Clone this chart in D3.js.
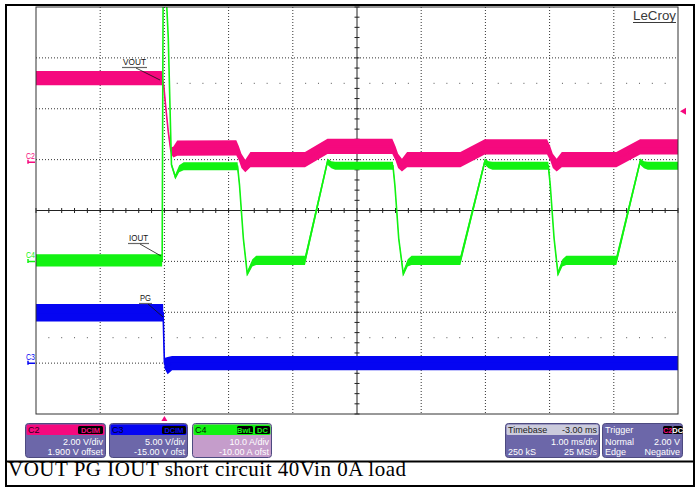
<!DOCTYPE html>
<html>
<head>
<meta charset="utf-8">
<script src="https://cdn.jsdelivr.net/npm/d3@7"></script>
<style>
  body { margin: 0; background: #fff; }
  svg { display: block; }
  text { font-family: "Liberation Sans", Arial, sans-serif; }
</style>
</head>
<body>
<svg id="scope" width="696" height="488"></svg>
<script>
// ---- Acquisition settings ----
const timeDomain = [-2, 8];          // ms across the 10 horizontal divisions
const divDomain = [-4, 4];           // vertical divisions
const triggerTime = 0;               // ms
const triggerLevel = 2.0;            // V on C2

// Channel setup: volts (or amps) per division and offset
const c2Scale = 2.0,  c2Offset = 1.9;     // VOUT
const c3Scale = 5.0,  c3Offset = -15.0;   // PG
const c4Scale = 10.0, c4Offset = -10.0;   // IOUT

// ---- C2: VOUT (V) — time, level, noise half-band ----
const voutT = [-2.0, -0.04, -0.01, 0.02, 0.06, 0.10, 0.14, 0.20,
               1.12, 1.16, 1.20, 1.26, 1.34,
               2.19, 2.54, 3.55, 3.60, 3.64, 3.70, 3.78,
               4.61, 4.99, 5.96, 6.01, 6.05, 6.11, 6.19,
               7.04, 7.41, 8.0];
const voutV = [3.30, 3.30, 3.00, 2.20, 1.20, 0.45, 0.40, 0.55,
               0.56, 0.35, 0.05, -0.15, 0.10,
               0.10, 0.62, 0.62, 0.35, 0.05, -0.12, 0.10,
               0.10, 0.60, 0.60, 0.35, 0.05, -0.12, 0.10,
               0.10, 0.60, 0.60];
const voutN = [0.28, 0.28, 0.15, 0.08, 0.08, 0.12, 0.22, 0.30,
               0.30, 0.28, 0.28, 0.25, 0.30,
               0.30, 0.30, 0.30, 0.28, 0.28, 0.25, 0.30,
               0.30, 0.30, 0.30, 0.28, 0.28, 0.25, 0.30,
               0.30, 0.30, 0.30];

// ---- C4: IOUT (A) ----
const ioutT = [-2.0, -0.035, -0.02, 0.03, 0.06, 0.11, 0.17, 0.23, 0.30,
               1.14, 1.17, 1.23, 1.29, 1.37, 1.43,
               2.19, 2.54, 2.60, 2.66,
               3.56, 3.59, 3.65, 3.72, 3.79, 3.85,
               4.61, 4.99, 5.05, 5.11,
               5.98, 6.01, 6.07, 6.13, 6.20, 6.26,
               7.04, 7.41, 7.47, 7.53, 8.0];
const ioutV = [0.2, 0.2, 52, 52, 44, 19, 16.6, 18.2, 18.7,
               18.7, 15.0, 4.5, -2.4, -0.3, 0.2,
               0.2, 19.6, 19.0, 18.8,
               18.8, 15.0, 4.5, -2.4, -0.3, 0.2,
               0.2, 19.6, 19.0, 18.8,
               18.8, 15.0, 4.5, -2.4, -0.3, 0.2,
               0.2, 19.6, 19.0, 18.8, 18.8];
const ioutN = [1.2, 1.2, 0.3, 0.3, 0.3, 0.4, 0.5, 0.7, 0.8,
               0.8, 0.4, 0.4, 0.5, 0.7, 0.9,
               0.9, 0.6, 0.7, 0.8,
               0.8, 0.4, 0.4, 0.5, 0.7, 0.9,
               0.9, 0.6, 0.7, 0.8,
               0.8, 0.4, 0.4, 0.5, 0.7, 0.9,
               0.9, 0.6, 0.7, 0.8, 0.8];

// ---- C3: PG (V) ----
const pgT = [-2.0, -0.02, 0.0, 0.05, 0.12, 8.0];
const pgV = [4.95, 4.95, 0.0, -0.25, 0.0, 0.0];
const pgN = [0.85, 0.85, 0.5, 0.85, 0.7, 0.7];

// ---- Readout boxes ----
const chanBoxes = [
  { name: "C2", badges: ["DCIM"], rows: [["", "2.00 V/div"], ["", "1.900 V offset"]] },
  { name: "C3", badges: ["DCIM"], rows: [["", "5.00 V/div"], ["", "-15.00 V ofst"]] },
  { name: "C4", badges: ["BwL", "DC"], rows: [["", "10.0 A/div"], ["", "-10.00 A ofst"]] }
];
const timebaseRows = [["Timebase", "-3.00 ms"], ["", "1.00 ms/div"], ["250 kS", "25 MS/s"]];
const triggerRows = [["Trigger", ""], ["Normal", "2.00 V"], ["Edge", "Negative"]];
const captionText = "VOUT PG IOUT short circuit 40Vin 0A load";

// ---- Colours ----
const pink = "#f5097e", blue = "#0505f2", green = "#12f212";
const bodyPurple = "#6c67a9", lightMauve = "#c59dcb";

// ---- Layout ----
const svg = d3.select("#scope");
const plot = { left: 36, right: 678, top: 7, bottom: 414 };

const x = d3.scaleLinear().domain(timeDomain).range([plot.left, plot.right]);
const yDiv = d3.scaleLinear().domain(divDomain).range([plot.bottom, plot.top]);
const chanY = (scale, offset) => v => yDiv((v + offset) / scale);
const y2 = chanY(c2Scale, c2Offset), y3 = chanY(c3Scale, c3Offset), y4 = chanY(c4Scale, c4Offset);

// Outer page frame and caption divider
svg.append("rect").attr("x", 6).attr("y", 5).attr("width", 688).attr("height", 481)
  .attr("fill", "none").attr("stroke", "#000").attr("stroke-width", 2);
svg.append("line").attr("x1", 6).attr("x2", 694).attr("y1", 461.5).attr("y2", 461.5)
  .attr("stroke", "#000").attr("stroke-width", 2);

// ---- Graticule ----
const grid = svg.append("g");
const majorT = d3.range(timeDomain[0], timeDomain[1] + 0.001, 1);
const majorD = d3.range(divDomain[0], divDomain[1] + 0.001, 1);
const minorT = d3.range(timeDomain[0], timeDomain[1] + 0.001, 0.2);
const minorD = d3.range(divDomain[0], divDomain[1] + 0.001, 0.2);

grid.selectAll(".vg").data(majorT.slice(1, -1).filter(t => t !== 3)).join("line")
  .attr("x1", d => x(d)).attr("x2", d => x(d)).attr("y1", plot.top).attr("y2", plot.bottom)
  .attr("stroke", "#333").attr("stroke-dasharray", "1,2");
grid.selectAll(".hg").data(majorD.slice(1, -1).filter(d => d !== 0)).join("line")
  .attr("y1", d => yDiv(d)).attr("y2", d => yDiv(d)).attr("x1", plot.left).attr("x2", plot.right)
  .attr("stroke", "#333").attr("stroke-dasharray", "1,2");

// sparse dot rows at ±2.5 divisions
[2.5, -2.5].forEach(dv => {
  grid.selectAll(null).data(minorT.filter(t => Math.abs(t - Math.round(t)) > 0.01)).join("rect")
    .attr("x", d => x(d) - 0.5).attr("y", yDiv(dv) - 0.5).attr("width", 1).attr("height", 1)
    .attr("fill", "#555");
});

// centre cross with minor ticks
const xc = x(3), yc = yDiv(0);
grid.append("line").attr("x1", plot.left).attr("x2", plot.right).attr("y1", yc).attr("y2", yc)
  .attr("stroke", "#222");
grid.append("line").attr("y1", plot.top).attr("y2", plot.bottom).attr("x1", xc).attr("x2", xc)
  .attr("stroke", "#222");
grid.selectAll(null).data(minorT).join("line")
  .attr("x1", d => x(d)).attr("x2", d => x(d)).attr("y1", yc - 2.5).attr("y2", yc + 2.5)
  .attr("stroke", "#222");
grid.selectAll(null).data(minorD).join("line")
  .attr("y1", d => yDiv(d)).attr("y2", d => yDiv(d)).attr("x1", xc - 2.5).attr("x2", xc + 2.5)
  .attr("stroke", "#222");

// ---- Traces ----
svg.append("clipPath").attr("id", "plotClip").append("rect")
  .attr("x", plot.left).attr("y", plot.top)
  .attr("width", plot.right - plot.left).attr("height", plot.bottom - plot.top);
const traces = svg.append("g").attr("clip-path", "url(#plotClip)");

function drawTrace(ts, vs, ns, yScale, color) {
  const data = ts.map((t, i) => ({ t, v: vs[i], n: ns[i] }));
  const area = d3.area().x(d => x(d.t)).y0(d => yScale(d.v - d.n)).y1(d => yScale(d.v + d.n));
  const line = d3.line().x(d => x(d.t)).y(d => yScale(d.v));
  traces.append("path").attr("d", area(data)).attr("fill", color);
  traces.append("path").attr("d", line(data)).attr("fill", "none")
    .attr("stroke", color).attr("stroke-width", 1.6);
}
drawTrace(voutT, voutV, voutN, y2, pink);
drawTrace(pgT, pgV, pgN, y3, blue);
drawTrace(ioutT, ioutV, ioutN, y4, green);

// graticule border
svg.append("rect").attr("x", plot.left).attr("y", plot.top)
  .attr("width", plot.right - plot.left).attr("height", plot.bottom - plot.top)
  .attr("fill", "none").attr("stroke", "#333");

// ---- Channel ground markers ----
[["C2", y2(0), pink], ["C4", y4(0), green], ["C3", y3(0), blue]].forEach(([lab, yg, col]) => {
  svg.append("text").attr("x", 26).attr("y", yg - 3.5).attr("font-size", 8.5)
    .attr("textLength", 9).attr("lengthAdjust", "spacingAndGlyphs").attr("fill", col).text(lab);
  svg.append("path").attr("d", `M28,${yg - 2.5}V${yg + 1.5}M28,${yg}H35`)
    .attr("stroke", col).attr("stroke-width", 1.5).attr("fill", "none");
});

// ---- Trace annotations ----
const notes = [
  { text: "VOUT", tx: 123, ty: 65, len: 23, ul: [122, 147, 67.5], lead: [136, 68, 160, 80] },
  { text: "IOUT", tx: 129, ty: 241, len: 19, ul: [128, 149, 243.5], lead: [140, 244, 161, 256] },
  { text: "PG", tx: 140, ty: 301, len: 11, ul: [139, 152, 303.5], lead: [148, 304, 163, 317] }
];
notes.forEach(n => {
  svg.append("text").attr("x", n.tx).attr("y", n.ty).attr("font-size", 8.5)
    .attr("textLength", n.len).attr("lengthAdjust", "spacingAndGlyphs").attr("fill", "#111").text(n.text);
  svg.append("line").attr("x1", n.ul[0]).attr("x2", n.ul[1]).attr("y1", n.ul[2]).attr("y2", n.ul[2])
    .attr("stroke", "#666").attr("stroke-width", 1.2);
  svg.append("line").attr("x1", n.lead[0]).attr("y1", n.lead[1]).attr("x2", n.lead[2]).attr("y2", n.lead[3])
    .attr("stroke", "#111").attr("stroke-width", 0.8);
});

// ---- Trigger markers ----
const tx0 = x(triggerTime), ty0 = y2(triggerLevel);
svg.append("path").attr("d", `M${tx0},416L${tx0 - 3},421L${tx0 + 3},421Z`).attr("fill", pink);
svg.append("path").attr("d", `M680,${ty0}L686,${ty0 - 3.5}L686,${ty0 + 3.5}Z`).attr("fill", pink);

// ---- Brand ----
svg.append("text").attr("x", 633).attr("y", 20).attr("font-size", 13).attr("fill", "#3a3a3a")
  .attr("textLength", 43).attr("lengthAdjust", "spacingAndGlyphs").text("LeCroy");
svg.append("line").attr("x1", 633).attr("x2", 676).attr("y1", 22.5).attr("y2", 22.5)
  .attr("stroke", "#3a3a3a").attr("stroke-width", 1.2);

// ---- Readout boxes ----
function readout(bx, bw, headFill, headText, headTextColor, badges, badgeColors, rows, bodyFill, rightHead) {
  const g = svg.append("g");
  const by = 423, bh = 35;
  g.append("rect").attr("x", bx + 0.5).attr("y", by + 0.5).attr("width", bw - 1).attr("height", bh - 1)
    .attr("rx", 3).attr("fill", bodyFill).attr("stroke", "#4d4a80");
  g.append("rect").attr("x", bx + 1.5).attr("y", by + 1.5).attr("width", bw - 3).attr("height", 10.5)
    .attr("rx", 1.5).attr("fill", headFill);
  g.append("text").attr("x", bx + 3).attr("y", by + 10).attr("font-size", 9)
    .attr("fill", headTextColor).text(headText);
  if (rightHead) {
    g.append("text").attr("x", bx + bw - 3).attr("y", by + 10).attr("font-size", 9)
      .attr("text-anchor", "end").attr("fill", headTextColor).text(rightHead);
  }
  badges.forEach((b, i) => {
    g.append("rect").attr("x", b.x).attr("y", by + 3).attr("width", b.w).attr("height", 8)
      .attr("rx", 1.5).attr("fill", "#000");
    g.append("text").attr("x", b.x + b.w / 2).attr("y", by + 10).attr("font-size", 7.5)
      .attr("font-weight", "bold").attr("text-anchor", "middle").attr("fill", badgeColors[i]).text(b.t);
  });
  rows.forEach((r, i) => {
    const yy = by + 22 + i * 9.5;
    if (r[0]) g.append("text").attr("x", bx + 3).attr("y", yy).attr("font-size", 9).attr("fill", "#fff").text(r[0]);
    if (r[1]) g.append("text").attr("x", bx + bw - 3).attr("y", yy).attr("font-size", 9)
      .attr("text-anchor", "end").attr("fill", "#fff").text(r[1]);
  });
}

readout(25, 81, pink, chanBoxes[0].name, "#2a0018",
  [{ x: 78, w: 25, t: chanBoxes[0].badges[0] }], [pink], chanBoxes[0].rows, bodyPurple);
readout(109, 79, blue, chanBoxes[1].name, "#00002a",
  [{ x: 162, w: 24, t: chanBoxes[1].badges[0] }], [blue], chanBoxes[1].rows, bodyPurple);
readout(192, 80, green, chanBoxes[2].name, "#002000",
  [{ x: 237, w: 16, t: chanBoxes[2].badges[0] }, { x: 255, w: 15, t: chanBoxes[2].badges[1] }],
  [green, green], chanBoxes[2].rows, lightMauve);
readout(505, 95, "#cbcbdc", timebaseRows[0][0], "#222",
  [], [], timebaseRows.slice(1), bodyPurple, timebaseRows[0][1]);
readout(602, 81, bodyPurple, triggerRows[0][0], "#fff",
  [{ x: 663, w: 9.5, t: "C2" }, { x: 673, w: 9.5, t: "DC" }], [pink, "#fff"],
  triggerRows.slice(1), bodyPurple);

// ---- Caption ----
svg.append("text").attr("x", 8).attr("y", 476)
  .style("font-family", "'Liberation Serif', 'Times New Roman', serif")
  .attr("font-size", 21).attr("textLength", 398).attr("lengthAdjust", "spacing")
  .attr("fill", "#000").text(captionText);
</script>
</body>
</html>
